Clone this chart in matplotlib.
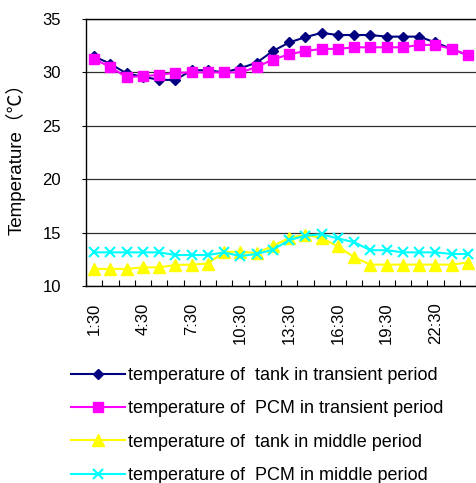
import numpy as np
import matplotlib
matplotlib.use("Agg")
import matplotlib.pyplot as plt

plt.rcParams['font.family'] = ['Liberation Sans', 'Noto Sans CJK SC', 'DejaVu Sans']

# hourly readings, 1:30 .. 24:30
times = ["%d:30" % h for h in range(1, 25)]

tank_transient = [31.5, 30.8, 29.9, 29.6, 29.3, 29.3, 30.2, 30.2, 30.0, 30.4, 30.9, 32.0,
                  32.8, 33.3, 33.7, 33.5, 33.5, 33.5, 33.35, 33.35, 33.35, 32.8, 32.2, 31.6]
pcm_transient = [31.25, 30.5, 29.55, 29.66, 29.76, 29.97, 30.0, 30.0, 30.0, 30.0, 30.5, 31.2,
                 31.7, 32.0, 32.2, 32.2, 32.35, 32.35, 32.35, 32.35, 32.57, 32.57, 32.2, 31.6]
tank_middle = [11.6, 11.6, 11.6, 11.75, 11.75, 11.97, 12.0, 12.1, 13.2, 13.2, 13.1, 13.75,
               14.5, 14.8, 14.5, 13.7, 12.7, 12.0, 12.0, 12.0, 12.0, 12.0, 12.0, 12.2]
pcm_middle = [13.15, 13.15, 13.15, 13.15, 13.15, 12.9, 12.9, 12.9, 13.15, 12.8, 13.0, 13.4,
              14.3, 14.7, 14.85, 14.45, 14.1, 13.35, 13.35, 13.15, 13.15, 13.15, 13.0, 13.0]

labels = ["temperature of  tank in transient period",
          "temperature of  PCM in transient period",
          "temperature of  tank in middle period",
          "temperature of  PCM in middle period"]

x = np.arange(len(times))
fs = 12

fig = plt.figure(figsize=(4.76, 4.83), dpi=100)
ax = fig.add_axes([86/476, 1-286/483, 390/476, 267/483])

ax.plot(x, tank_transient, color='#000080', marker='D', markersize=5, lw=1.5, label=labels[0])
ax.plot(x, pcm_transient, color='#FF00FF', marker='s', markersize=7, lw=1.5, label=labels[1])
ax.plot(x, tank_middle, color='#FFFF00', marker='^', markersize=9, lw=1.5, label=labels[2])
ax.plot(x, pcm_middle, color='#00FFFF', marker='x', markersize=7, mew=1.5, lw=1.5, label=labels[3])

ax.set_xlim(-0.5, len(times) - 0.5)
ax.set_ylim(10, 35)
ax.set_yticks(range(10, 36, 5))
ax.yaxis.grid(True, color='#303030', lw=0.9)
ax.set_axisbelow(True)

ax.set_xticks(x[::3])
ax.set_xticklabels(times[::3], rotation=90)
ax.set_xticks(np.arange(-0.5, len(times), 1), minor=True)
ax.tick_params(axis='x', which='major', length=0, pad=12, labelsize=fs)
ax.tick_params(axis='x', which='minor', direction='in', length=4.5, width=0.8)
ax.tick_params(axis='y', length=3, labelsize=fs, pad=15)

for s in ['top', 'left', 'bottom']:
    ax.spines[s].set_linewidth(1.0)
ax.spines['right'].set_visible(False)

ax.set_ylabel("Temperature（℃）", fontsize=13.5)
ax.yaxis.set_label_coords((26 - 86) / 390, 0.494)

fig.legend(loc='upper left', bbox_to_anchor=(64/476, 1-360/483), frameon=False,
           fontsize=13, handlelength=3.0, handletextpad=0.15, labelspacing=0.9,
           borderaxespad=0)

fig.savefig("out.png", dpi=100)
